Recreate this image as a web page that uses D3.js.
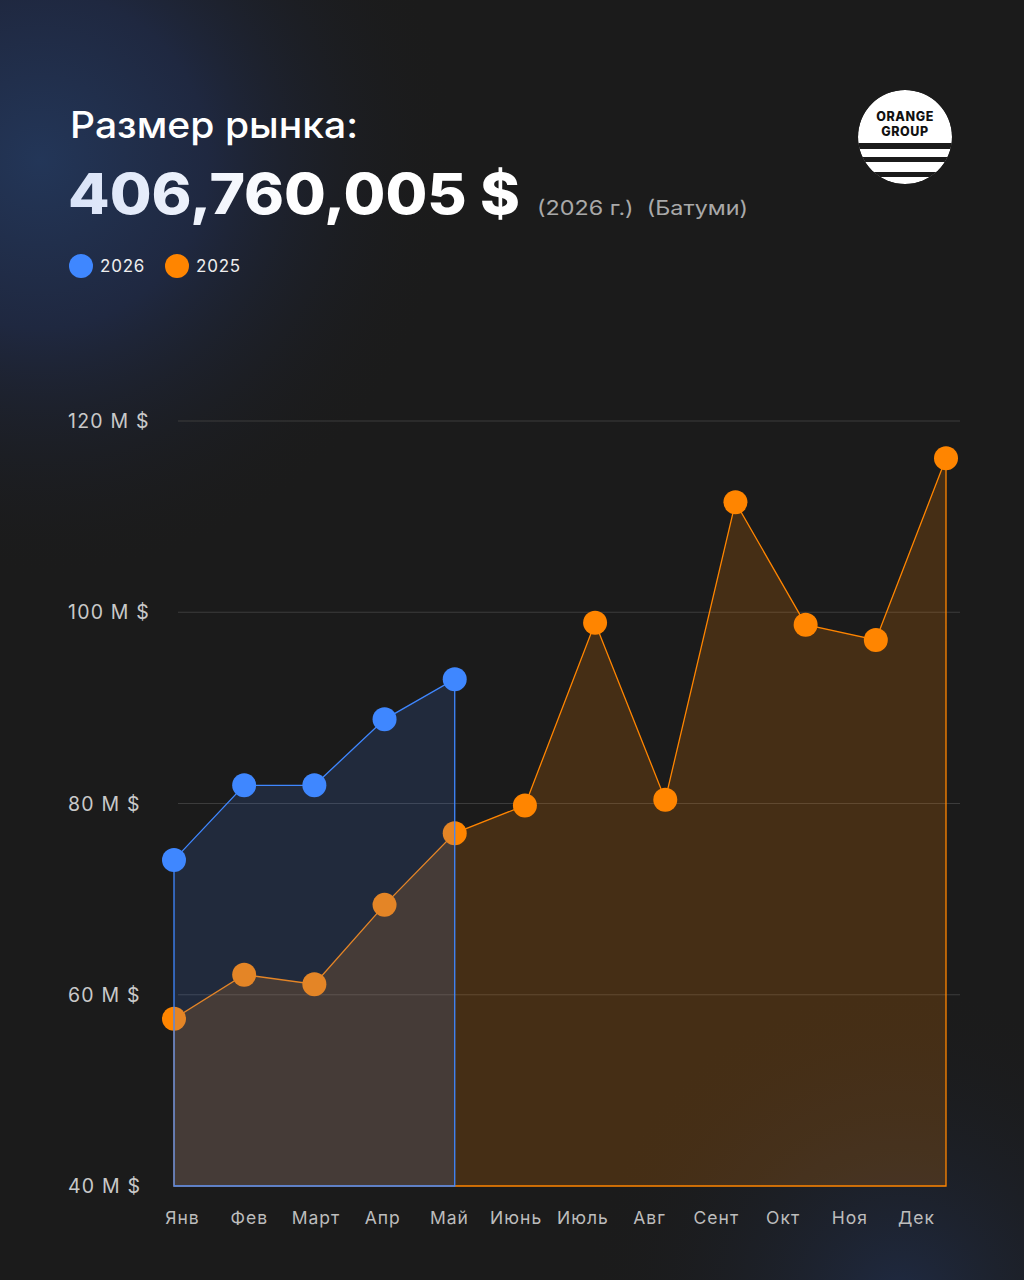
<!DOCTYPE html>
<html>
<head>
<meta charset="utf-8">
<script src="https://cdn.jsdelivr.net/npm/d3@7"></script>
<style>
  html, body { margin: 0; padding: 0; background: #1b1b1b; }
  svg { display: block; font-family: Inter, "Noto Sans", sans-serif; }
</style>
</head>
<body>
<script>
// data
var months = ["Янв", "Фев", "Март", "Апр", "Май", "Июнь", "Июль", "Авг", "Сент", "Окт", "Ноя", "Дек"];
var values2026 = [74.1, 81.9, 81.9, 88.8, 93.0];
var values2025 = [57.5, 62.1, 61.1, 69.4, 76.9, 79.8, 98.9, 80.4, 111.5, 98.7, 97.1, 116.1];
var yTicks = [40, 60, 80, 100, 120];
var legendItems = ["2026", "2025"];

var width = 1024;
var height = 1280;
var blue = "#3f87ff";
var orange = "#ff8500";

var svg = d3.select("body").append("svg")
  .attr("width", width)
  .attr("height", height);

// background glows
var defs = svg.append("defs");
var g1 = defs.append("radialGradient").attr("id", "glowTL")
  .attr("gradientUnits", "userSpaceOnUse")
  .attr("cx", 40).attr("cy", 160).attr("r", 420);
g1.append("stop").attr("offset", 0).attr("stop-color", "#233658");
g1.append("stop").attr("offset", 0.4).attr("stop-color", "#1f2840");
g1.append("stop").attr("offset", 1).attr("stop-color", "#1b1b1b").attr("stop-opacity", 0);
var g2 = defs.append("radialGradient").attr("id", "glowBR")
  .attr("gradientUnits", "userSpaceOnUse")
  .attr("cx", 900).attr("cy", 1300).attr("r", 320);
g2.append("stop").attr("offset", 0).attr("stop-color", "#1f2a42");
g2.append("stop").attr("offset", 1).attr("stop-color", "#1b1b1b").attr("stop-opacity", 0);
var numFill = defs.append("linearGradient").attr("id", "numFill")
  .attr("gradientUnits", "userSpaceOnUse")
  .attr("x1", 70).attr("x2", 520).attr("y1", 0).attr("y2", 0);
numFill.append("stop").attr("offset", 0).attr("stop-color", "#d9e3f8");
numFill.append("stop").attr("offset", 0.5).attr("stop-color", "#ffffff");

svg.append("rect").attr("width", width).attr("height", height).attr("fill", "#1b1b1b");
svg.append("rect").attr("width", width).attr("height", height).attr("fill", "url(#glowTL)");
svg.append("rect").attr("width", width).attr("height", height).attr("fill", "url(#glowBR)");

// header
svg.append("text")
  .attr("x", 70).attr("y", 138)
  .attr("fill", "#ffffff")
  .attr("font-size", 37).attr("font-weight", 500)
  .attr("textLength", 288).attr("lengthAdjust", "spacingAndGlyphs")
  .text("Размер рынка:");

svg.append("text")
  .attr("x", 68).attr("y", 214)
  .attr("fill", "url(#numFill)")
  .attr("font-size", 56).attr("font-weight", 800)
  .attr("textLength", 452).attr("lengthAdjust", "spacingAndGlyphs")
  .text("406,760,005 $");

svg.append("text")
  .attr("x", 537).attr("y", 215)
  .attr("fill", "#a9a9a9")
  .attr("font-size", 20)
  .attr("xml:space", "preserve")
  .attr("textLength", 211).attr("lengthAdjust", "spacingAndGlyphs")
  .text("(2026 г.)  (Батуми)");

// legend
var legend = svg.append("g").selectAll("g")
  .data(legendItems)
  .enter().append("g")
  .attr("transform", function (d, i) { return "translate(" + (81 + i * 96) + ",266)"; });
legend.append("circle").attr("r", 12)
  .attr("fill", function (d, i) { return i === 0 ? blue : orange; });
legend.append("text")
  .attr("x", 19).attr("dy", "0.36em")
  .attr("fill", "#eeeeee").attr("font-size", 17)
  .attr("letter-spacing", 0.8)
  .text(function (d) { return d; });

// logo
var logo = svg.append("g").attr("transform", "translate(905,137)");
defs.append("clipPath").attr("id", "logoClip")
  .append("circle").attr("r", 47);
var logoBody = logo.append("g").attr("clip-path", "url(#logoClip)");
logoBody.append("circle").attr("r", 47).attr("fill", "#ffffff");
[[6, 6], [20, 5], [35, 5]].forEach(function (b) {
  logoBody.append("rect").attr("x", -50).attr("width", 100)
    .attr("y", b[0]).attr("height", b[1]).attr("fill", "#1b1b1b");
});
var logoText = logo.append("text").attr("text-anchor", "middle")
  .attr("font-size", 12.5).attr("font-weight", 800).attr("fill", "#111")
  .attr("letter-spacing", 0.6);
logoText.append("tspan").attr("x", 0).attr("y", -16.5).text("ORANGE");
logoText.append("tspan").attr("x", 0).attr("y", -1.2).text("GROUP");

// scales
var x = d3.scalePoint().domain(months).range([174, 946]);
var xLabel = d3.scalePoint().domain(months).range([182, 916]);
var y = d3.scaleLinear().domain([40, 120]).range([1186, 421]);

// grid + y labels
var grid = svg.append("g");
grid.selectAll("line")
  .data(yTicks.slice(1))
  .enter().append("line")
  .attr("x1", 178).attr("x2", 960)
  .attr("y1", function (d) { return y(d); })
  .attr("y2", function (d) { return y(d); })
  .attr("stroke", "#3c3c3c").attr("stroke-width", 1.2);

svg.append("g").selectAll("text")
  .data(yTicks)
  .enter().append("text")
  .attr("x", 68)
  .attr("y", function (d) { return y(d); })
  .attr("dy", "0.36em")
  .attr("fill", "#c9c9c9")
  .attr("font-size", 19.5)
  .attr("letter-spacing", 1.2)
  .text(function (d) { return d + " M $"; });

// x axis labels
var xAxis = svg.append("g")
  .attr("transform", "translate(0,1208)")
  .call(d3.axisBottom(xLabel).tickSize(0).tickPadding(0));
xAxis.select(".domain").remove();
xAxis.selectAll("text")
  .attr("fill", "#bdbdbd")
  .attr("font-size", 17.5)
  .attr("font-family", "Inter, sans-serif")
  .attr("letter-spacing", 1)
  .attr("dy", "0.9em");

// 2025 series
var data2025 = months.map(function (m, i) { return {m: m, v: values2025[i]}; });
var data2026 = values2026.map(function (v, i) { return {m: months[i], v: v}; });

var area = d3.area()
  .x(function (d) { return x(d.m); })
  .y0(y(40))
  .y1(function (d) { return y(d.v); });

svg.append("path")
  .datum(data2025)
  .attr("d", function (d) { return area(d) + "Z"; })
  .attr("fill", orange).attr("fill-opacity", 0.19)
  .attr("stroke", orange).attr("stroke-width", 1.3);

svg.append("g").selectAll("circle")
  .data(data2025)
  .enter().append("circle")
  .attr("cx", function (d) { return x(d.m); })
  .attr("cy", function (d) { return y(d.v); })
  .attr("r", 12)
  .attr("fill", orange);

// 2026 series on top
svg.append("path")
  .datum(data2026)
  .attr("d", function (d) { return area(d) + "Z"; })
  .attr("fill", "#4a86ff").attr("fill-opacity", 0.15)
  .attr("stroke", blue).attr("stroke-width", 1.3);

svg.append("g").selectAll("circle")
  .data(data2026)
  .enter().append("circle")
  .attr("cx", function (d) { return x(d.m); })
  .attr("cy", function (d) { return y(d.v); })
  .attr("r", 12)
  .attr("fill", blue);
</script>
</body>
</html>
